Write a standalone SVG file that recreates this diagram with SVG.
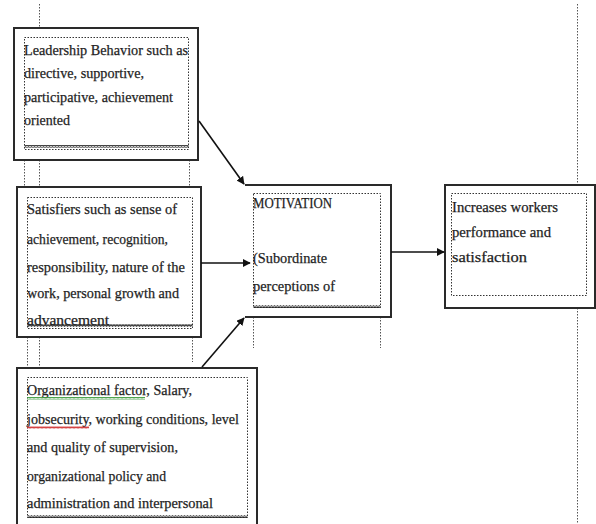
<svg xmlns="http://www.w3.org/2000/svg" width="596" height="524" viewBox="0 0 596 524">
<style>
.outer{fill:#fff;stroke:#2a2a2a;stroke-width:2}
.edge{fill:none;stroke:#2a2a2a;stroke-width:2}
.dot{fill:none;stroke:#333;stroke-width:1;stroke-dasharray:1.5,1.5}
.guide{fill:none;stroke:#555;stroke-width:1;stroke-dasharray:1.5,1.5}
.t{font-family:"Liberation Serif","DejaVu Serif",serif;font-size:15px;fill:#1e1e1e;stroke:#1e1e1e;stroke-width:0.25}
.conn{fill:none;stroke:#111;stroke-width:1.6;marker-end:url(#ah)}
</style>
<defs>
<marker id="ah" viewBox="0 0 10 10" refX="9" refY="5" markerWidth="5" markerHeight="5" orient="auto" markerUnits="strokeWidth">
<path d="M0,0 L10,5 L0,10 z" fill="#111"/>
</marker>
<pattern id="wave" width="3" height="3" patternUnits="userSpaceOnUse">
<path d="M0,2.5 L0.75,0.5 L1.5,2.5 L2.25,0.5 L3,2.5" fill="none" stroke="#222" stroke-width="0.9"/>
</pattern>
<pattern id="waveG" width="4" height="3" patternUnits="userSpaceOnUse">
<path d="M0,2.5 L1,0.5 L2,2.5 L3,0.5 L4,2.5" fill="none" stroke="#3a9a3a" stroke-width="0.9"/>
</pattern>
<pattern id="waveR" width="4" height="3" patternUnits="userSpaceOnUse">
<path d="M0,2.5 L1,0.5 L2,2.5 L3,0.5 L4,2.5" fill="none" stroke="#d03030" stroke-width="0.9"/>
</pattern>
<clipPath id="clip2"><rect x="17" y="187" width="184" height="138"/></clipPath>
</defs>
<rect width="596" height="524" fill="#fff"/>

<g id="guides">
<line class="guide" x1="39.5" y1="4" x2="39.5" y2="28"/>
<line class="guide" x1="24.5" y1="160" x2="24.5" y2="187"/>
<line class="guide" x1="39.5" y1="160" x2="39.5" y2="187"/>
<line class="guide" x1="189.5" y1="160" x2="189.5" y2="187"/>
<line class="guide" x1="27.5" y1="337" x2="27.5" y2="368"/>
<line class="guide" x1="39.5" y1="337" x2="39.5" y2="368"/>
<line class="guide" x1="192.5" y1="337" x2="192.5" y2="362"/>
<line class="guide" x1="253.5" y1="317" x2="253.5" y2="348"/>
<line class="guide" x1="380.5" y1="317" x2="380.5" y2="348"/>
<line class="guide" x1="577.5" y1="4" x2="577.5" y2="185"/>
<line class="guide" x1="577.5" y1="308" x2="577.5" y2="524"/>
</g>

<g id="leadership">
<rect class="outer" x="14" y="28" width="184" height="132"/>
<rect class="dot" x="24.5" y="37.5" width="164" height="112"/>
<rect x="24.5" y="145" width="164" height="3" fill="url(#wave)"/>
<text class="t" x="24" y="55" textLength="164" lengthAdjust="spacingAndGlyphs">Leadership Behavior such as</text>
<text class="t" x="24" y="78" textLength="120" lengthAdjust="spacingAndGlyphs">directive, supportive,</text>
<text class="t" x="24" y="102" textLength="149" lengthAdjust="spacingAndGlyphs">participative, achievement</text>
<text class="t" x="24" y="125" textLength="46" lengthAdjust="spacingAndGlyphs">oriented</text>
</g>

<g id="satisfiers">
<rect class="outer" x="17" y="187" width="184" height="150"/>
<rect class="dot" x="27.5" y="197.5" width="165" height="131"/>
<g clip-path="url(#clip2)">
<text class="t" x="27" y="214" textLength="150" lengthAdjust="spacingAndGlyphs">Satisfiers such as sense of</text>
<text class="t" x="27" y="244" textLength="141" lengthAdjust="spacingAndGlyphs">achievement, recognition,</text>
<text class="t" x="27" y="272" textLength="158" lengthAdjust="spacingAndGlyphs">responsibility, nature of the</text>
<text class="t" x="27" y="298" textLength="152" lengthAdjust="spacingAndGlyphs">work, personal growth and</text>
<text class="t" x="27" y="325" textLength="82" lengthAdjust="spacingAndGlyphs">advancement</text>
</g>
<rect x="27.5" y="324" width="165" height="3" fill="url(#wave)"/>
</g>

<g id="organizational">
<rect class="outer" x="17" y="368" width="240" height="160"/>
<rect class="dot" x="27.5" y="377.5" width="220" height="140"/>
<rect x="27.5" y="515" width="220" height="3" fill="url(#wave)"/>
<text class="t" x="27" y="395" textLength="165" lengthAdjust="spacingAndGlyphs">Organizational factor, Salary,</text>
<rect x="27" y="397" width="118" height="3" fill="url(#waveG)"/>
<text class="t" x="27" y="424" textLength="212" lengthAdjust="spacingAndGlyphs">jobsecurity, working conditions, level</text>
<rect x="27" y="426" width="62" height="3" fill="url(#waveR)"/>
<text class="t" x="27" y="452" textLength="151" lengthAdjust="spacingAndGlyphs">and quality of supervision,</text>
<text class="t" x="27" y="481" textLength="139" lengthAdjust="spacingAndGlyphs">organizational policy and</text>
<text class="t" x="27" y="508" textLength="186" lengthAdjust="spacingAndGlyphs">administration and interpersonal</text>
</g>

<g id="motivation">
<rect x="245" y="185" width="146" height="132" fill="#fff"/>
<path class="edge" d="M245,185 H391 V317 H245"/>
<rect class="dot" x="253.5" y="193.5" width="127" height="114"/>
<rect x="253.5" y="305" width="127" height="3" fill="url(#wave)"/>
<text class="t" x="253" y="208" textLength="79" lengthAdjust="spacingAndGlyphs">MOTIVATION</text>
<text class="t" x="253" y="263" textLength="74" lengthAdjust="spacingAndGlyphs">(Subordinate</text>
<text class="t" x="253" y="291" textLength="82" lengthAdjust="spacingAndGlyphs">perceptions of</text>
</g>

<g id="outcome">
<rect class="outer" x="445" y="185" width="150" height="123"/>
<rect class="dot" x="451.5" y="193.5" width="135" height="102"/>
<text class="t" x="452" y="212" textLength="106" lengthAdjust="spacingAndGlyphs">Increases workers</text>
<text class="t" x="452" y="237" textLength="99" lengthAdjust="spacingAndGlyphs">performance and</text>
<text class="t" x="452" y="262" textLength="75" lengthAdjust="spacingAndGlyphs">satisfaction</text>
</g>

<g id="connectors">
<line class="conn" x1="199" y1="121" x2="244" y2="184"/>
<line class="conn" x1="201" y1="263" x2="250" y2="263"/>
<line class="conn" x1="202" y1="367" x2="244" y2="318"/>
<line class="conn" x1="391" y1="252" x2="444" y2="252"/>
</g>
</svg>
